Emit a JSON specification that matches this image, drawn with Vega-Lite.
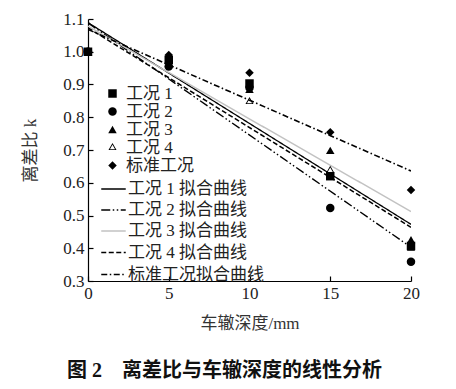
{
  "$schema": "https://vega.github.io/schema/vega-lite/v6.json",
  "autosize": {"type": "none"},
  "width": 323,
  "height": 262,
  "padding": {"left": 88, "top": 19, "right": 45, "bottom": 108},
  "background": "white",
  "title": {
    "text": "图 2\u2003离差比与车辙深度的线性分析",
    "orient": "bottom",
    "anchor": "start",
    "frame": "group",
    "dx": -21,
    "offset": 30,
    "font": "Liberation Serif, Noto Sans CJK SC",
    "fontSize": 20,
    "fontWeight": "bold",
    "color": "#111"
  },
  "config": {
    "view": {"stroke": null},
    "font": "Liberation Serif, Noto Sans CJK SC",
    "axis": {
      "grid": false,
      "domainColor": "#000",
      "domainWidth": 1.2,
      "tickColor": "#000",
      "tickSize": -5,
      "tickWidth": 1.2,
      "labelOverlap": false,
      "labelFlush": false,
      "labelFont": "Liberation Serif, Noto Sans CJK SC",
      "labelFontSize": 17,
      "labelColor": "#222",
      "titleFont": "Liberation Serif, Noto Sans CJK SC",
      "titleFontSize": 17,
      "titleFontWeight": "normal",
      "titleColor": "#333"
    },
    "legend": {
      "labelFont": "Liberation Serif, Noto Sans CJK SC",
      "labelFontSize": 17,
      "labelColor": "#222",
      "padding": 0,
      "titlePadding": 0
    }
  },
  "datasets": {
    "pts": [
      {"d": 0, "k": 1.0, "cond": "工况 1"},
      {"d": 5, "k": 0.975, "cond": "工况 1"},
      {"d": 10, "k": 0.903, "cond": "工况 1"},
      {"d": 15, "k": 0.62, "cond": "工况 1"},
      {"d": 20, "k": 0.407, "cond": "工况 1"},
      {"d": 0, "k": 1.0, "cond": "工况 2"},
      {"d": 5, "k": 0.955, "cond": "工况 2"},
      {"d": 10, "k": 0.89, "cond": "工况 2"},
      {"d": 15, "k": 0.523, "cond": "工况 2"},
      {"d": 20, "k": 0.359, "cond": "工况 2"},
      {"d": 0, "k": 1.0, "cond": "工况 3"},
      {"d": 5, "k": 0.965, "cond": "工况 3"},
      {"d": 10, "k": 0.885, "cond": "工况 3"},
      {"d": 15, "k": 0.699, "cond": "工况 3"},
      {"d": 20, "k": 0.426, "cond": "工况 3"},
      {"d": 0, "k": 1.0, "cond": "工况 4"},
      {"d": 5, "k": 0.96, "cond": "工况 4"},
      {"d": 10, "k": 0.848, "cond": "工况 4"},
      {"d": 15, "k": 0.638, "cond": "工况 4"},
      {"d": 20, "k": 0.4, "cond": "工况 4"},
      {"d": 0, "k": 1.0, "cond": "标准工况"},
      {"d": 5, "k": 0.99, "cond": "标准工况"},
      {"d": 10, "k": 0.936, "cond": "标准工况"},
      {"d": 15, "k": 0.754, "cond": "标准工况"},
      {"d": 20, "k": 0.578, "cond": "标准工况"}
    ],
    "fits": [
      {"d": 0, "k": 1.089, "fit": "工况 1 拟合曲线"},
      {"d": 20, "k": 0.473, "fit": "工况 1 拟合曲线"},
      {"d": 0, "k": 1.088, "fit": "工况 2 拟合曲线"},
      {"d": 20, "k": 0.403, "fit": "工况 2 拟合曲线"},
      {"d": 0, "k": 1.078, "fit": "工况 3 拟合曲线"},
      {"d": 20, "k": 0.512, "fit": "工况 3 拟合曲线"},
      {"d": 0, "k": 1.073, "fit": "工况 4 拟合曲线"},
      {"d": 20, "k": 0.464, "fit": "工况 4 拟合曲线"},
      {"d": 0, "k": 1.068, "fit": "标准工况拟合曲线"},
      {"d": 20, "k": 0.636, "fit": "标准工况拟合曲线"}
    ]
  },
  "encoding": {
    "x": {
      "field": "d", "type": "quantitative",
      "scale": {"domain": [0, 20], "nice": false},
      "axis": {"values": [0, 5, 10, 15, 20], "title": "车辙深度/mm", "labelPadding": 9, "titlePadding": 14, "labelOverlap": false, "labelFlush": false}
    },
    "y": {
      "field": "k", "type": "quantitative",
      "scale": {"domain": [0.3, 1.1], "nice": false, "zero": false},
      "axis": {"values": [0.3, 0.4, 0.5, 0.6, 0.7, 0.8, 0.9, 1.0, 1.1], "format": ".1f", "title": "离差比 k", "labelPadding": 9, "titlePadding": 23, "labelOverlap": false, "labelFlush": false}
    }
  },
  "layer": [
    {
      "data": {"name": "fits"},
      "mark": {"type": "line", "clip": true},
      "encoding": {
        "color": {
          "field": "fit", "type": "nominal",
          "scale": {
            "domain": ["工况 1 拟合曲线", "工况 2 拟合曲线", "工况 3 拟合曲线", "工况 4 拟合曲线", "标准工况拟合曲线"],
            "range": ["#000000", "#000000", "#c2c2c2", "#000000", "#000000"]
          },
          "legend": {"title": null, "orient": "none", "legendX": 12, "legendY": 157, "symbolType": "stroke", "symbolSize": 600, "symbolOffset": 0, "labelOffset": 1, "rowPadding": -4}
        },
        "strokeDash": {
          "field": "fit", "type": "nominal",
          "scale": {
            "domain": ["工况 1 拟合曲线", "工况 2 拟合曲线", "工况 3 拟合曲线", "工况 4 拟合曲线", "标准工况拟合曲线"],
            "range": [[1, 0], [9, 2.5, 1.5, 2.5, 1.5, 2.5], [1, 0], [5, 2.5], [6, 2.5, 1.5, 2.5]]
          }
        },
        "strokeWidth": {
          "field": "fit", "type": "nominal",
          "scale": {
            "domain": ["工况 1 拟合曲线", "工况 2 拟合曲线", "工况 3 拟合曲线", "工况 4 拟合曲线", "标准工况拟合曲线"],
            "range": [1.3, 1.6, 3.2, 1.6, 1.6]
          }
        }
      }
    },
    {
      "data": {"name": "pts"},
      "mark": {"type": "point", "filled": true, "color": "#000", "opacity": 1, "size": 72},
      "encoding": {
        "shape": {
          "field": "cond", "type": "nominal",
          "scale": {
            "domain": ["工况 1", "工况 2", "工况 3", "工况 4", "标准工况"],
            "range": ["square", "circle", "triangle-up", "M0,-1.05L0.95,0.6L-0.95,0.6Z M0,-0.65L-0.6,0.4L0.6,0.4Z", "diamond"]
          },
          "legend": {
            "title": null, "orient": "none", "legendX": 16, "legendY": 66,
            "symbolFillColor": "#000", "symbolStrokeWidth": 0, "symbolSize": 72, "labelOffset": 5, "rowPadding": 0
          }
        }
      }
    }
  ]
}
